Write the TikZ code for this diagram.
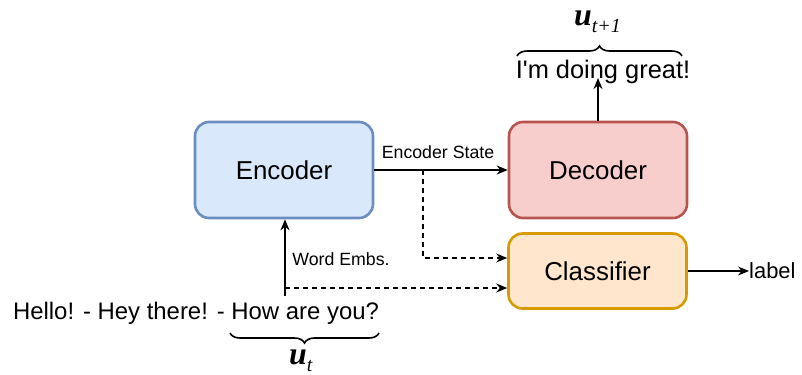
\documentclass[tikz,border=0pt]{standalone}
\usepackage{fontspec}
\setmainfont{Liberation Sans}
\newfontfamily\utterfont{Liberation Serif}
\usetikzlibrary{arrows.meta,decorations.pathreplacing}
\newcommand{\uttsym}[1]{{\utterfont\fontsize{32}{36}\selectfont\bfseries\itshape u}\raisebox{-7bp}{\utterfont\fontsize{20}{24}\selectfont\itshape #1}}
\begin{document}
\begin{tikzpicture}[x=1bp,y=-1bp,
  block/.style={rounded corners=14bp,line width=2.6bp,minimum width=178bp,inner sep=0pt,font=\fontsize{26}{30}\selectfont},
  enc/.style={block,draw=encline,fill=encfill,minimum height=96bp},
  dec/.style={block,draw=decline,fill=decfill,minimum height=96bp},
  cls/.style={block,draw=clsline,fill=clsfill,minimum height=75bp},
  plain/.style={inner sep=0pt,font=\fontsize{24}{28}\selectfont},
  small/.style={inner sep=0pt,font=\fontsize{17.8}{21}\selectfont},
  conn/.style={line width=1.4bp,-{Stealth[length=11bp,width=9bp]}},
  dconn/.style={conn,dashed,dash pattern=on 5bp off 4bp},
  curly/.style={line width=1.6bp,decorate,decoration={brace,amplitude=10bp}}]
\definecolor{encline}{HTML}{6C8EBF}\definecolor{encfill}{HTML}{DAE8FC}
\definecolor{decline}{HTML}{B85450}\definecolor{decfill}{HTML}{F8CECC}
\definecolor{clsline}{HTML}{D79B00}\definecolor{clsfill}{HTML}{FFE6CC}
\useasboundingbox (0,0) rectangle (802,374);

% model blocks
\node[enc] (enc) at (284,170) {Encoder};
\node[dec] (dec) at (598,170) {Decoder};
\node[cls] (cls) at (597.5,271) {Classifier};

% texts
\node[plain] (hello) at (196,313) {Hello! - Hey there! - How are you?};
\node[plain,font=\fontsize{25.5}{30}\selectfont] (great) at (603,72) {I\textquotesingle m doing great!};
\node[plain,font=\fontsize{22}{26}\selectfont,anchor=west] (lbl) at (749,271) {label};
\node[small] (state) at (438,152) {Encoder State};
\node[small] (embs) at (341,259) {Word Embs.};
\node[inner sep=0pt,anchor=base west] (ut) at (289,364) {\uttsym{t}};
\node[inner sep=0pt,anchor=base west] (utp) at (574,25) {\uttsym{t+1}};

% braces over the current and next utterance
\coordinate (bl) at (230,333); \coordinate (br) at (379,333);
\draw[curly,decoration={mirror}] (bl) -- (br);
\coordinate (tl) at (517,56); \coordinate (tr) at (682,56);
\draw[curly] (tl) -- (tr);

% connectors
\coordinate (split) at (423,170);
\coordinate (embin) at (285,296);
\coordinate (tap) at (285,288);
\coordinate (clsin1) at ([yshift=13bp]cls.west);
\coordinate (clsin2) at ([yshift=-17bp]cls.west);
\draw[conn] (enc.east) -- (dec.west);
\draw[conn] (embin) -- (embin |- enc.south);
\draw[dconn] (split) |- (clsin1);
\draw[dconn] (tap) -- (tap -| clsin2);
\draw[conn] (dec.north) -- ([yshift=6bp]dec.north |- great.south);
\draw[conn] (cls.east) -- (cls.east -| lbl.west);
\end{tikzpicture}
\end{document}
